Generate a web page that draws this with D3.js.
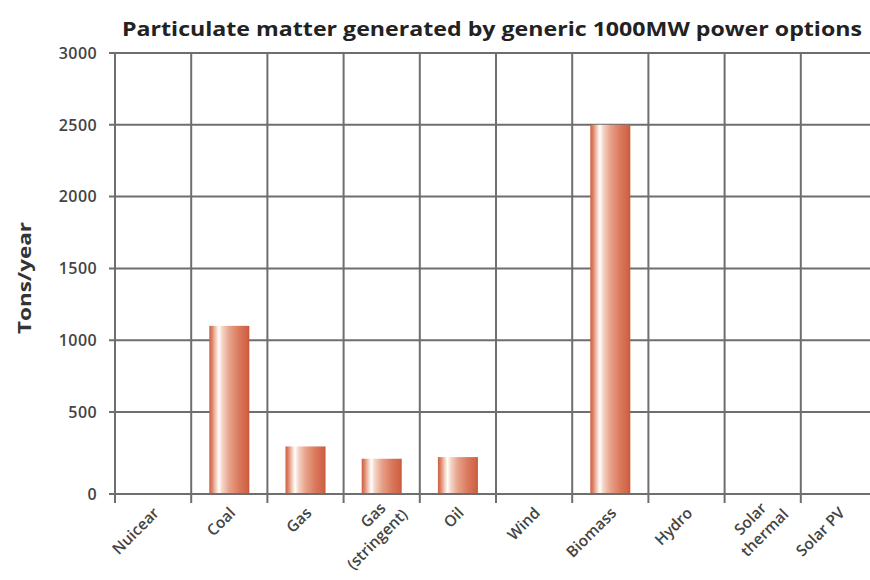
<!DOCTYPE html>
<html>
<head>
<meta charset="utf-8">
<script src="https://cdn.jsdelivr.net/npm/d3@7"></script>
<style>
  html, body { margin: 0; padding: 0; background: #fff; }
  svg { display: block; }
</style>
</head>
<body>
<div id="chart"></div>
<script>
const categories = ["Nuicear", "Coal", "Gas", "Gas\n(stringent)", "Oil", "Wind", "Biomass", "Hydro", "Solar\nthermal", "Solar PV"];
const values = [0, 1100, 290, 215, 225, 0, 2500, 0, 0, 0];
const yTicks = [0, 500, 1000, 1500, 2000, 2500, 3000];
const title = "Particulate matter generated by generic 1000MW power options";
const yLabel = "Tons/year";

const W = 870, H = 580;
const svg = d3.select("#chart").append("svg").attr("width", W).attr("height", H);

const x = d3.scaleBand().domain(categories).range([115, 877]).padding(0);
// the original's zero sits a little lower than the evenly spaced gridlines
const y = d3.scaleLinear().domain([0, 500, 3000]).range([494, 412, 53]);

const defs = svg.append("defs");
const grad = defs.append("linearGradient").attr("id", "barGrad")
  .attr("x1", "0%").attr("x2", "100%").attr("y1", "0%").attr("y2", "0%");
[
  [0, "#cc6043"], [0.06, "#da7d61"], [0.16, "#f2c8b7"], [0.24, "#ffffff"],
  [0.32, "#f5d6c9"], [0.5, "#e7a28a"], [0.75, "#da785b"], [0.95, "#d06246"], [1, "#c55639"]
].forEach(([o, c]) => grad.append("stop").attr("offset", o).attr("stop-color", c));

const gridColor = "#6e6e6e";
const plot = svg.append("g");

// horizontal gridlines
plot.selectAll("line.h").data(yTicks).join("line")
  .attr("x1", 109).attr("x2", W)
  .attr("y1", d => y(d)).attr("y2", d => y(d))
  .attr("stroke", gridColor).attr("stroke-width", 2);

// vertical gridlines at category boundaries
plot.selectAll("line.v").data(categories).join("line")
  .attr("x1", d => x(d)).attr("x2", d => x(d))
  .attr("y1", y(3000)).attr("y2", y(0) + 9)
  .attr("stroke", gridColor).attr("stroke-width", 2);

// bars
const bw = x.bandwidth() * 0.525;
svg.selectAll("rect.bar").data(categories.map((c, i) => ({ c, v: values[i] })).filter(d => d.v > 0))
  .join("rect")
  .attr("x", d => x(d.c) + (x.bandwidth() - bw) / 2)
  .attr("width", bw)
  .attr("y", d => y(d.v))
  .attr("height", d => y(0) - y(d.v))
  .attr("fill", "url(#barGrad)");

// baseline redrawn over bars
svg.append("line").attr("x1", 109).attr("x2", W).attr("y1", y(0)).attr("y2", y(0))
  .attr("stroke", gridColor).attr("stroke-width", 2);

// y axis tick labels
svg.selectAll("text.yt").data(yTicks).join("text")
  .attr("x", 97).attr("y", d => y(d)).attr("dy", "0.36em")
  .attr("text-anchor", "end")
  .attr("font-family", "Open Sans, sans-serif").attr("font-weight", 600)
  .attr("font-size", 16).attr("letter-spacing", 0.4).attr("fill", "#444")
  .text(d => d);

// y axis label
svg.append("text")
  .attr("transform", "translate(31,278) rotate(-90)")
  .attr("text-anchor", "middle")
  .attr("font-family", "Open Sans, sans-serif").attr("font-weight", 700)
  .attr("font-size", 18).attr("fill", "#333")
  .attr("textLength", 112).attr("lengthAdjust", "spacingAndGlyphs")
  .text(yLabel);

// x labels rotated
const xl = svg.selectAll("g.xl").data(categories).join("g")
  .attr("transform", d => `translate(${x(d) + x.bandwidth() / 2 + 7},${y(0) + 20}) rotate(-45)`);
xl.each(function (d) {
  const lines = d.split("\n");
  const t = d3.select(this).append("text")
    .attr("text-anchor", "end")
    .attr("font-family", "Open Sans, sans-serif").attr("font-weight", 600)
    .attr("font-size", 15.5).attr("fill", "#444");
  if (lines.length === 1) {
    t.append("tspan").attr("x", 0).attr("y", 0).text(lines[0]);
  } else {
    t.append("tspan").attr("x", 2).attr("y", -5).text(lines[0]);
    t.append("tspan").attr("x", 13).attr("y", 15).text(lines[1]);
  }
});

// title
svg.append("text")
  .attr("x", 122).attr("y", 36)
  .attr("font-family", "Open Sans, sans-serif").attr("font-weight", 700)
  .attr("font-size", 19).attr("fill", "#222")
  .attr("textLength", 740).attr("lengthAdjust", "spacingAndGlyphs")
  .text(title);
</script>
</body>
</html>
